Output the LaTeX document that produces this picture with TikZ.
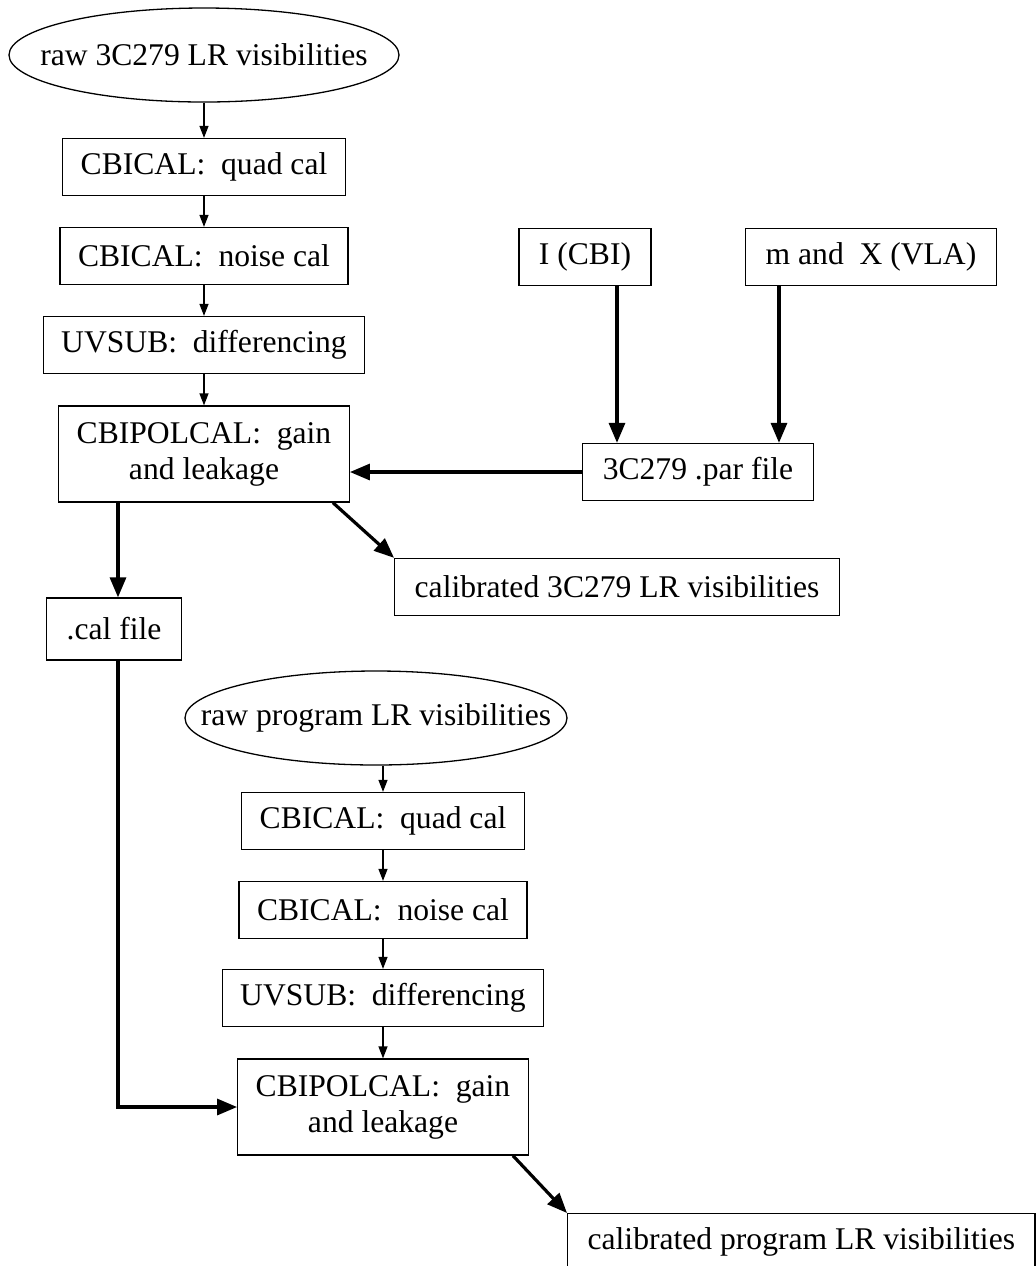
\documentclass[tikz,border=0pt]{standalone}
\usepackage{fontspec}
\setmainfont{Liberation Serif}
\usetikzlibrary{shapes.geometric,arrows.meta}

% wide space after a colon
\newcommand{\colgap}{\hspace{0.5em}}

\begin{document}
\begin{tikzpicture}
          [x=0.5pt, y=-0.5pt,
           every node/.style = {font=\fontsize{15.8pt}{18pt}\selectfont},
           procbox/.style = {draw, rectangle, line width=0.65pt, inner xsep=10pt, minimum height=28.5pt},
           stepbox/.style = {procbox, inner xsep=9pt},
           twobox/.style  = {stepbox, align=center, minimum height=48pt},
           rawdata/.style = {draw, ellipse, line width=0.65pt, inner xsep=-30pt, inner ysep=0pt, minimum height=47pt},
           thin/.style    = {-{Triangle[length=6pt,width=4.5pt]}, line width=0.65pt},
           thick/.style   = {-{Triangle[length=10pt,width=8pt]}, line width=1.6pt}]

\useasboundingbox (0,0) rectangle (1036,1266);

% 3C279 chain
\node [rawdata, minimum width=195pt] (raw3c)   at (204,55)  {raw 3C279 LR visibilities};
\node [stepbox]                      (quad3c)  at (204,167) {CBICAL:\colgap quad cal};
\node [stepbox]                      (noise3c) at (204,256) {CBICAL:\colgap noise cal};
\node [stepbox]                      (uvsub3c) at (204,345) {UVSUB:\colgap differencing};
\node [twobox]                       (pol3c)   at (204,454) {CBIPOLCAL:\colgap gain\\and leakage};

% source model
\node [procbox] (icbi)  at (585,257) {I (CBI)};
\node [procbox] (mchi)  at (871,257) {m and\hspace{0.5em}X (VLA)};
\node [procbox] (par)   at (698,472) {3C279 .par file};

% 3C279 outputs
\node [procbox]                      (cal3c)   at (617,587) {calibrated 3C279 LR visibilities};
\node [procbox, minimum height=31pt] (calfile) at (114,629) {.cal file};

% program chain
\node [rawdata, minimum width=191pt] (rawprog)   at (376,718)  {raw program LR visibilities};
\node [stepbox]                      (quadprog)  at (383,821)  {CBICAL:\colgap quad cal};
\node [stepbox]                      (noiseprog) at (383,910)  {CBICAL:\colgap noise cal};
\node [stepbox]                      (uvsubprog) at (383,998)  {UVSUB:\colgap differencing};
\node [twobox]                       (polprog)   at (383,1107) {CBIPOLCAL:\colgap gain\\and leakage};
\node [procbox, anchor=north west]   (calprog)   at (567,1213) {calibrated program LR visibilities};

% thin steps
\draw [thin] (raw3c.south -| quad3c) -- (quad3c);
\draw [thin] (quad3c)  -- (noise3c);
\draw [thin] (noise3c) -- (uvsub3c);
\draw [thin] (uvsub3c) -- (pol3c);
\draw [thin] (rawprog.south -| quadprog) -- (quadprog);
\draw [thin] (quadprog)  -- (noiseprog);
\draw [thin] (noiseprog) -- (uvsubprog);
\draw [thin] (uvsubprog) -- (polprog);

% thick connections
\draw [thick] ([xshift=16pt]icbi.south)  -- ([xshift=16pt]icbi.south |- par.north);
\draw [thick] ([xshift=-46pt]mchi.south) -- ([xshift=-46pt]mchi.south |- par.north);
\draw [thick] (par.west) -- (par.west -| pol3c.east);
\draw [thick] ([xshift=2pt]calfile.north |- pol3c.south) -- ([xshift=2pt]calfile.north);
\draw [thick] ([xshift=-8.5pt]pol3c.south east) -- (cal3c.north west);
\draw [thick] ([xshift=2pt]calfile.south) |- (polprog.west);
\draw [thick] ([xshift=-8pt]polprog.south east) -- (calprog.north west);

\end{tikzpicture}
\end{document}
